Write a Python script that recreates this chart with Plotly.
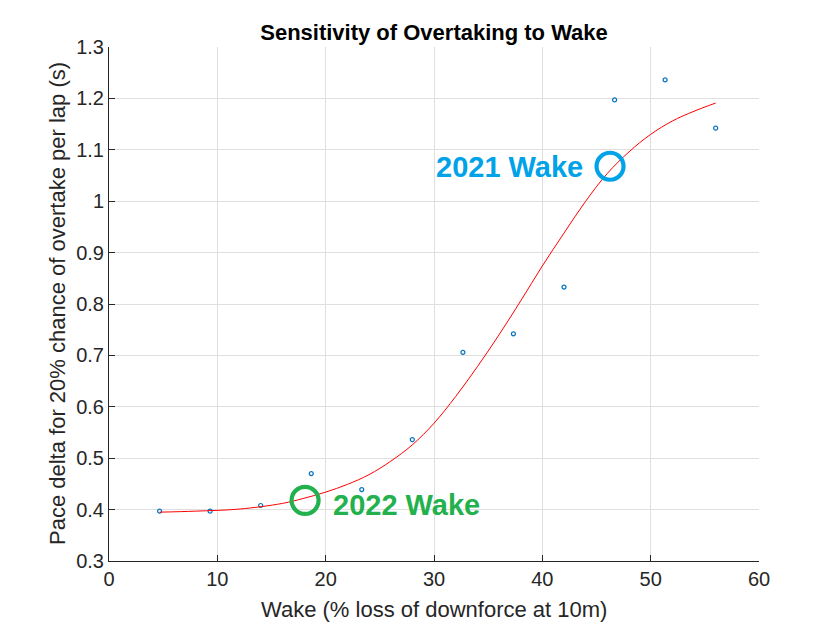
import plotly.graph_objects as go

# Measured data points (wake %, pace delta s)
wake = [4.67, 9.33, 14.0, 18.67, 23.33, 28.0, 32.67, 37.33, 42.0, 46.67, 51.33, 56.0]
pace = [0.397, 0.397, 0.408, 0.470, 0.439, 0.536, 0.706, 0.742, 0.833, 1.197, 1.236, 1.142]

# Fitted curve
fit_x = [4.67, 8.0, 12.0, 16.0, 18.0, 20.0, 22.0, 24.0, 26.0, 28.0, 30.0, 32.0, 34.0,
         36.0, 38.0, 40.0, 42.0, 44.0, 46.0, 48.0, 50.0, 52.0, 54.0, 56.0]
fit_y = [0.395, 0.397, 0.401, 0.412, 0.422, 0.434, 0.449, 0.468, 0.494, 0.526, 0.568, 0.620,
         0.678, 0.740, 0.806, 0.874, 0.938, 1.000, 1.054, 1.096, 1.130, 1.156, 1.175, 1.191]

# Highlighted wake levels
hl_labels = ["2022 Wake", "2021 Wake"]
hl_x = [18.1, 46.25]
hl_y = [0.418, 1.068]
hl_colors = ["#22B14C", "#00A2E8"]

x_ticks = [0, 10, 20, 30, 40, 50, 60]
y_ticks = [0.3, 0.4, 0.5, 0.6, 0.7, 0.8, 0.9, 1.0, 1.1, 1.2, 1.3]
y_ticktext = ["0.3", "0.4", "0.5", "0.6", "0.7", "0.8", "0.9", "1", "1.1", "1.2", "1.3"]

FONT = "Liberation Sans, Arial, sans-serif"
AX = "#262626"

fig = go.Figure()
fig.add_trace(go.Scatter(x=wake, y=pace, mode="markers",
                         marker=dict(symbol="circle-open", size=4, color="#0072BD",
                                     line=dict(width=1.2, color="#0072BD")),
                         showlegend=False))
fig.add_trace(go.Scatter(x=fit_x, y=fit_y, mode="lines",
                         line=dict(color="#FF0000", width=1, shape="spline", smoothing=1.0),
                         showlegend=False))
for lab, hx, hy, col in zip(hl_labels, hl_x, hl_y, hl_colors):
    fig.add_trace(go.Scatter(x=[hx], y=[hy], mode="markers",
                             marker=dict(symbol="circle-open", size=27, color=col,
                                         line=dict(width=4.2, color=col)),
                             showlegend=False))

fig.add_annotation(x=hl_x[0], y=hl_y[0], xref="x", yref="y", text="<b>" + hl_labels[0] + "</b>",
                   showarrow=False, xanchor="left", yanchor="middle", xshift=26, yshift=-5,
                   font=dict(family=FONT, size=29, color=hl_colors[0]))
fig.add_annotation(x=hl_x[1], y=hl_y[1], xref="x", yref="y", text="<b>" + hl_labels[1] + "</b>",
                   showarrow=False, xanchor="right", yanchor="middle", xshift=-25, yshift=-1,
                   font=dict(family=FONT, size=29, color=hl_colors[1]))

# Axis titles as annotations for precise placement
fig.add_annotation(xref="paper", yref="paper", x=0.5, y=0, yshift=-48, xanchor="center",
                   yanchor="middle", text="Wake (% loss of downforce at 10m)", showarrow=False,
                   font=dict(family=FONT, size=22, color=AX))
fig.add_annotation(xref="paper", yref="paper", x=0, y=0.5, xshift=-52, xanchor="center",
                   yanchor="middle", textangle=-90,
                   text="Pace delta for 20% chance of overtake per lap (s)", showarrow=False,
                   font=dict(family=FONT, size=22, color=AX))

fig.update_layout(
    width=840, height=630,
    margin=dict(l=108.5, r=80.5, t=46.5, b=68.5),
    paper_bgcolor="white", plot_bgcolor="white",
    title=dict(text="<b>Sensitivity of Overtaking to Wake</b>", x=0.5167, xanchor="center",
               y=1 - 32 / 630, yanchor="middle", font=dict(family=FONT, size=22, color="black")),
    showlegend=False,
)
fig.update_xaxes(range=[0, 60], tickvals=x_ticks, ticks="inside", ticklen=6, tickcolor=AX,
                 showline=True, linecolor=AX, linewidth=1, showgrid=True, gridcolor="#dfdfdf",
                 gridwidth=1, zeroline=False, tickfont=dict(family=FONT, size=20, color=AX))
fig.update_yaxes(range=[0.3, 1.3], tickvals=y_ticks, ticktext=y_ticktext, ticks="inside",
                 ticklen=6, tickcolor=AX, showline=True, linecolor=AX, linewidth=1,
                 showgrid=True, gridcolor="#dfdfdf", gridwidth=1, zeroline=False,
                 tickfont=dict(family=FONT, size=20, color=AX))

fig.write_html("out.html")
